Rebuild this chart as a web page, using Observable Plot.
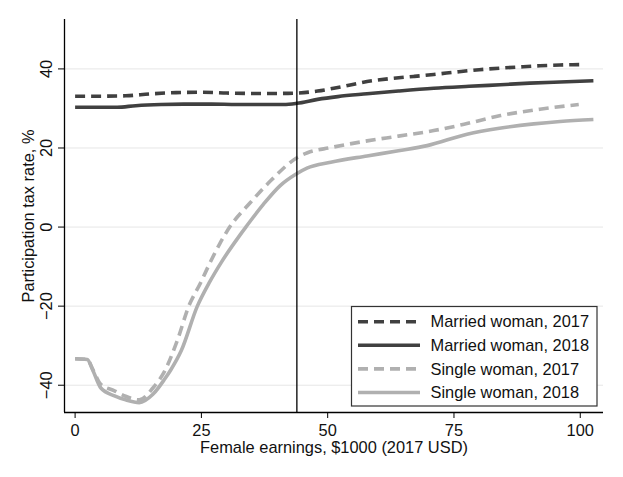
<!DOCTYPE html>
<html><head><meta charset="utf-8">
<script src="https://cdn.jsdelivr.net/npm/d3@7"></script>
<script src="https://cdn.jsdelivr.net/npm/@observablehq/plot@0.6"></script>
<style>
body{margin:0;background:#fff;}
#chart svg{font-family:"Liberation Sans",Arial,Helvetica,sans-serif;}
</style>
</head><body><div id="chart"></div>
<script>
// Female earnings ($1000) and participation tax rate (%)
const married2017X = [0, 5, 10, 15, 20, 25, 30, 35, 40, 44, 48, 52, 57.8, 62, 67, 71, 76, 80, 84.2, 88, 92, 96, 100];
const married2017Y = [33.1, 33.1, 33.2, 33.7, 34.0, 34.1, 33.9, 33.8, 33.8, 33.9, 34.4, 35.3, 36.8, 37.5, 38.1, 38.6, 39.3, 39.8, 40.2, 40.5, 40.8, 41.0, 41.1];

const married2018X = [0, 3, 8.3, 12, 17, 21.5, 27, 32, 37, 41.3, 43.9, 48, 52, 57.8, 64, 71, 78, 84.2, 90, 96, 102.6];
const married2018Y = [30.3, 30.3, 30.3, 30.7, 31.0, 31.1, 31.1, 31.0, 31.0, 31.0, 31.3, 32.3, 33.0, 33.7, 34.4, 35.1, 35.6, 36.0, 36.4, 36.7, 37.0];

const single2017X = [0, 2.4, 3.5, 5.1, 7.8, 10, 12.7, 15.4, 17.7, 20.2, 22.5, 24.8, 26.9, 28.6, 30.6, 34.7, 38.7, 44, 46, 50.6, 57.8, 64, 71, 77, 84.2, 92, 99.7];
const single2017Y = [-33.3, -33.5, -36.0, -39.8, -41.4, -42.8, -43.7, -40.7, -36.5, -28.8, -20.0, -14.2, -8.5, -4.3, 0, 6.2, 11.7, 17.6, 18.8, 20.1, 21.8, 23.0, 24.4, 26.0, 28.2, 29.8, 31.0];

const single2018X = [0, 2.4, 3.5, 5.1, 7.8, 10, 12.7, 15.4, 17.7, 18.9, 21.0, 24.2, 26.5, 29.0, 32.7, 33.8, 37.3, 40.6, 43.6, 45.9, 50.6, 57.8, 64, 69.7, 77.6, 84, 90.8, 96, 102.6];
const single2018Y = [-33.3, -33.5, -36.2, -40.7, -42.7, -43.7, -44.4, -42.3, -38.5, -36.2, -31.3, -20.0, -14.2, -8.8, -1.9, 0, 5.8, 10.5, 13.3, 14.9, 16.4, 18.0, 19.3, 20.6, 23.5, 25.0, 26.1, 26.7, 27.2];

const seriesNames = ["Married woman, 2017", "Married woman, 2018", "Single woman, 2017", "Single woman, 2018"];
const seriesX = [married2017X, married2018X, single2017X, single2018X];
const seriesY = [married2017Y, married2018Y, single2017Y, single2018Y];
const seriesColor = ["#404040", "#404040", "#b0b0b0", "#b0b0b0"];
const seriesDash = ["10,6", null, "10,6", null];

const xTicks = [0, 25, 50, 75, 100];
const yTicks = [-40, -20, 0, 20, 40];
const refLineX = [43.9];
const xDomain = [-2.1, 104.6];
const yDomain = [-46.9, 52.5];

const series = seriesNames.map((name, i) => seriesX[i].map((x, j) => ({series: name, x, y: seriesY[i][j]})));

const lineMarks = series.map((data, i) => Plot.line(data, {
  x: "x", y: "y", stroke: seriesColor[i], strokeWidth: 3.6, curve: "monotone-x",
  strokeDasharray: seriesDash[i] || undefined, strokeLinecap: "butt", strokeLinejoin: "round"
}));

const chart = Plot.plot({
  width: 623, height: 477,
  marginLeft: 64, marginRight: 20, marginTop: 19, marginBottom: 65,
  style: {fontSize: "16.4px", fontFamily: "Liberation Sans, Arial, sans-serif", color: "#111", background: "#fff"},
  x: {domain: xDomain},
  y: {domain: yDomain},
  marks: [
    Plot.gridY(yTicks, {stroke: "#e6e6e6", strokeOpacity: 1, strokeWidth: 1}),
    ...lineMarks.slice(2),
    ...lineMarks.slice(0, 2),
    Plot.ruleX(refLineX, {stroke: "#000", strokeWidth: 1.3}),
    Plot.ruleX([xDomain[0]], {stroke: "#000", strokeWidth: 1.3}),
    Plot.ruleY([yDomain[0]], {stroke: "#000", strokeWidth: 1.3}),
    Plot.axisX(xTicks, {tickSize: 6, tickPadding: 5.5, label: "Female earnings, $1000 (2017 USD)", labelAnchor: "center", labelArrow: "none", labelOffset: 40, fill: "#111", stroke: "#000"}),
    Plot.axisY(yTicks, {tickSize: 6, tickPadding: 7, tickRotate: -90, tickFormat: d => d < 0 ? "\u2212" + Math.abs(d) : String(d), label: "Participation tax rate, %", labelAnchor: "center", labelArrow: "none", labelOffset: 42, fill: "#111", stroke: "#000"})
  ]
});
document.getElementById("chart").appendChild(chart);

// Legend (inside plot area, bottom right)
const svg = d3.select(chart);
const lg = svg.append("g").attr("text-anchor", "start");
lg.append("rect").attr("x", 351.5).attr("y", 306.5).attr("width", 245.5).attr("height", 99.5)
  .attr("fill", "#fff").attr("stroke", "#333").attr("stroke-width", 1.2);
seriesNames.forEach((name, i) => {
  const yy = 321.7 + i * 23.6;
  lg.append("line").attr("x1", 358).attr("x2", 420).attr("y1", yy).attr("y2", yy)
    .attr("stroke", seriesColor[i]).attr("stroke-width", 3.6)
    .attr("stroke-dasharray", seriesDash[i]);
  lg.append("text").attr("x", 430.5).attr("y", yy).attr("dy", "0.35em")
    .attr("text-anchor", "start").attr("font-size", 16.4).attr("fill", "#111").text(name);
});
</script>
</body></html>
